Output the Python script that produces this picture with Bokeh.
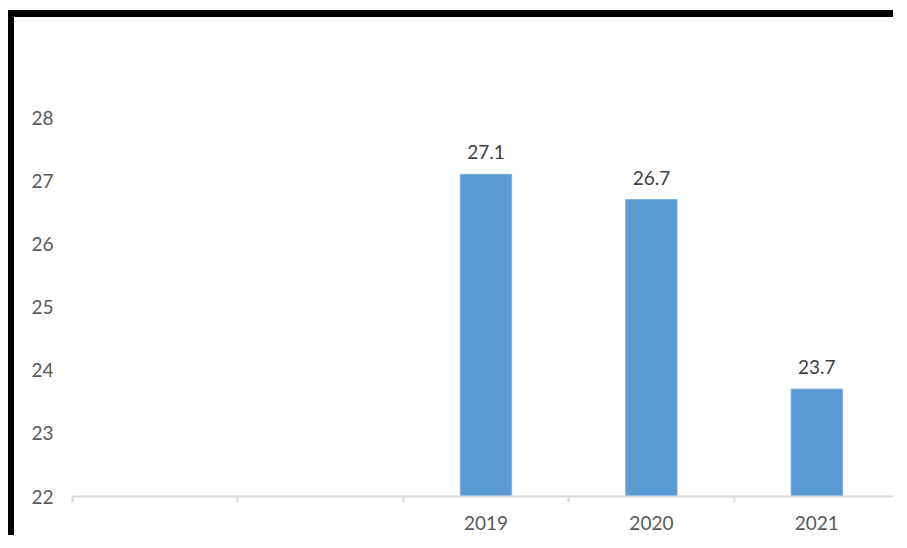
import numpy as np
from bokeh.plotting import figure
from bokeh.models import Range1d, FixedTicker, Label, ColumnDataSource, LabelSet
from bokeh.core.properties import value
from bokeh.embed import file_html
from bokeh.resources import INLINE

categories = ["", "", "2019", "2020", "2021"]
values = [None, None, 27.1, 26.7, 23.7]
y_ticks = [22, 23, 24, 25, 26, 27, 28]
title_line1 = "PORCENTAJE  DE POBLACION  DE 15 Y MAS AÑOS QUE HA SIDO"
title_line2 = "VICTIMA DE UN DELITO"

FONT = "Lato"
TFONT = "Open Sans"
GREY = "#595959"

n = len(categories)
centers = np.arange(n) + 0.5
ymin, ymax = y_ticks[0], y_ticks[-1]

p = figure(width=885, height=525, output_backend="svg", toolbar_location=None,
           x_range=Range1d(0, n), y_range=Range1d(ymin, ymax),
           min_border_left=58, min_border_right=0, min_border_top=100,
           min_border_bottom=46, title=None)
p.margin = (10, 0, 0, 8)
p.styles = {"border-top": "7px solid black", "border-left": "6px solid black"}
p.outline_line_color = None
p.grid.visible = False

mask = [v is not None for v in values]
src = ColumnDataSource(dict(
    x=[c for c, m in zip(centers, mask) if m],
    top=[v for v in values if v is not None],
    lbl=[f"{v:.1f}" for v in values if v is not None],
))
p.vbar(x="x", top="top", bottom=ymin, width=0.31, source=src,
       fill_color="#5B9BD5", line_color="#7AAEDD", line_width=1)
p.add_layout(LabelSet(x="x", y="top", text="lbl", source=src, text_align="center",
                      text_baseline="bottom", y_offset=15, text_font=value(FONT),
                      text_font_size="19px", text_color="#404040"))

xa = p.xaxis[0]
xa.ticker = FixedTicker(ticks=list(centers), minor_ticks=list(np.arange(n + 1)))
xa.major_label_overrides = {float(c): lab for c, lab in zip(centers, categories)}
xa.major_tick_out = 0
xa.major_tick_in = 0
xa.minor_tick_out = 6
xa.minor_tick_in = 0
xa.minor_tick_line_color = "#D9D9D9"
xa.axis_line_color = "#D9D9D9"
xa.axis_line_width = 2
xa.minor_tick_line_width = 2
xa.major_label_standoff = 13
xa.major_label_text_font = FONT
xa.major_label_text_font_size = "19px"
xa.major_label_text_color = GREY

ya = p.yaxis[0]
ya.ticker = FixedTicker(ticks=y_ticks)
ya.axis_line_color = None
ya.major_tick_line_color = None
ya.minor_tick_line_color = None
ya.major_label_standoff = 13
ya.major_label_text_font = FONT
ya.major_label_text_font_size = "19px"
ya.major_label_text_color = GREY

for txt, dy in ((title_line1, 64), (title_line2, 32)):
    p.add_layout(Label(x=n / 2, y=ymax, x_offset=-13, y_offset=dy, text=txt,
                       text_align="center", text_baseline="middle",
                       text_font=TFONT, text_font_size="22px",
                       text_color=GREY))

open("out.html", "w").write(file_html(p, INLINE))
